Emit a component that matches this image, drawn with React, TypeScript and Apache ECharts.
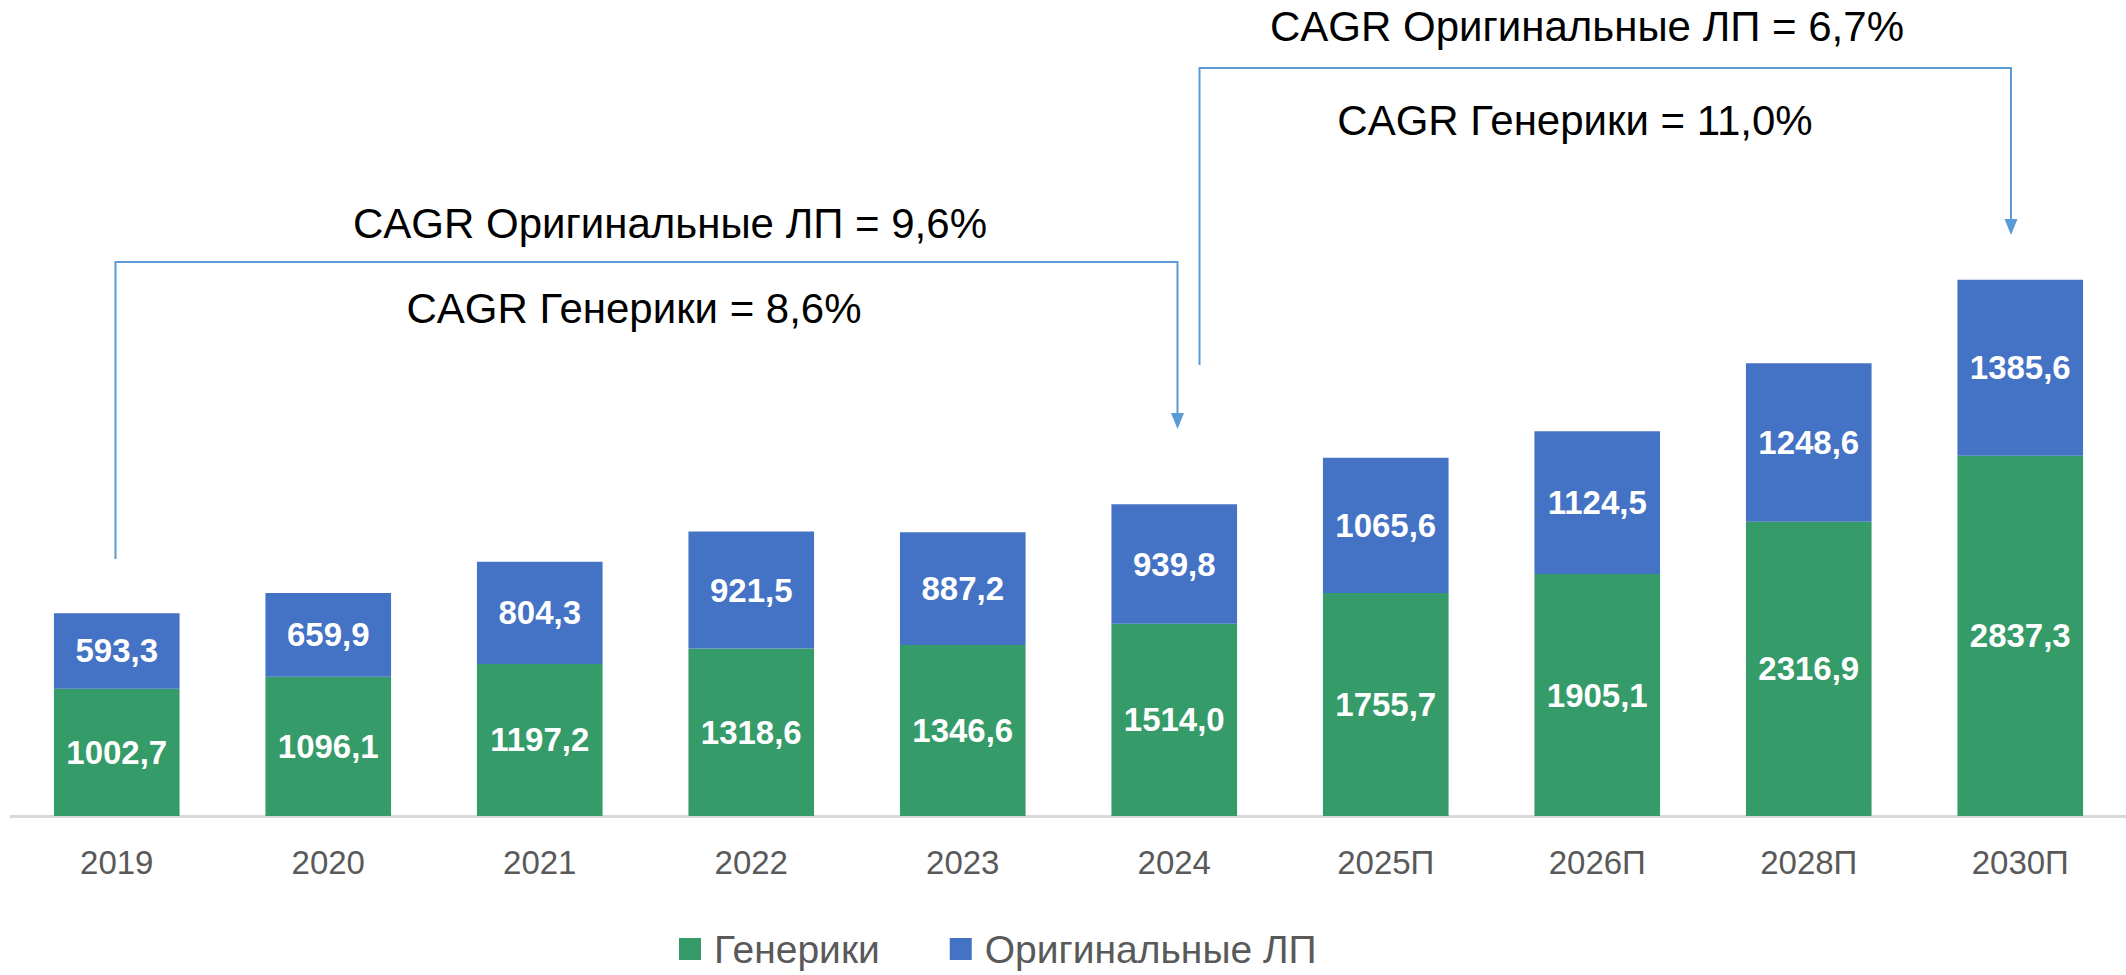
import React, { useEffect, useRef } from "react";
import * as echarts from "echarts";

const categories = ["2019", "2020", "2021", "2022", "2023", "2024", "2025П", "2026П", "2028П", "2030П"];
const generics = [1002.7, 1096.1, 1197.2, 1318.6, 1346.6, 1514.0, 1755.7, 1905.1, 2316.9, 2837.3];
const originals = [593.3, 659.9, 804.3, 921.5, 887.2, 939.8, 1065.6, 1124.5, 1248.6, 1385.6];
const seriesNames = ["Генерики", "Оригинальные ЛП"];
const cagrTexts = [
  "CAGR Оригинальные ЛП = 9,6%",
  "CAGR Генерики = 8,6%",
  "CAGR Оригинальные ЛП = 6,7%",
  "CAGR Генерики = 11,0%",
];

const FONT = "'Liberation Sans', Arial, sans-serif";
const GREEN = "#359B68";
const BLUE = "#4472C4";
const LINE = "#5B9BD5";

const fmt = (v: number) => v.toFixed(1).replace(".", ",");

export default function App() {
  const ref = useRef<HTMLDivElement>(null);
  useEffect(() => {
    if (!ref.current) return;
    const chart = echarts.init(ref.current, null, { renderer: "svg" });
    const labelStyle = {
      show: true,
      position: "inside" as const,
      color: "#ffffff",
      fontFamily: FONT,
      fontWeight: "bold" as const,
      fontSize: 33,
      formatter: (p: any) => fmt(p.value),
    };
    const textEl = (t: string, x: number, y: number) => ({
      type: "text",
      x,
      y,
      style: {
        text: t,
        fill: "#000000",
        font: `42px ${FONT}`,
        textAlign: "center",
        textVerticalAlign: "middle",
      },
    });
    chart.setOption({
      animation: false,
      backgroundColor: "#ffffff",
      grid: { left: 11, right: -7, top: 181, bottom: 159, containLabel: false },
      xAxis: {
        type: "category",
        data: categories,
        axisLine: { show: true, lineStyle: { color: "#d9d9d9", width: 3 } },
        axisTick: { show: false },
        axisLabel: { color: "#595959", fontFamily: FONT, fontSize: 33, margin: 30 },
      },
      yAxis: { type: "value", min: 0, max: 5000, show: false, splitLine: { show: false } },
      legend: {
        data: seriesNames,
        left: 674,
        top: 924,
        icon: "rect",
        itemWidth: 22,
        itemHeight: 22,
        itemGap: 70,
        textStyle: { color: "#595959", fontFamily: FONT, fontSize: 39, lineHeight: 40, padding: [0, 0, 0, 8] },
      },
      series: [
        {
          name: seriesNames[0],
          type: "bar",
          stack: "total",
          data: generics,
          barCategoryGap: "40.6%",
          itemStyle: { color: GREEN },
          label: labelStyle,
        },
        {
          name: seriesNames[1],
          type: "bar",
          stack: "total",
          data: originals,
          barCategoryGap: "40.6%",
          itemStyle: { color: BLUE },
          label: labelStyle,
        },
      ],
      graphic: [
        {
          type: "polyline",
          shape: { points: [[115.5, 559], [115.5, 262], [1177.5, 262], [1177.5, 416]] },
          style: { stroke: LINE, lineWidth: 2, fill: null },
        },
        {
          type: "polygon",
          shape: { points: [[1171, 413], [1184, 413], [1177.5, 429]] },
          style: { fill: LINE },
        },
        {
          type: "polyline",
          shape: { points: [[1199.5, 365], [1199.5, 68], [2011, 68], [2011, 222]] },
          style: { stroke: LINE, lineWidth: 2, fill: null },
        },
        {
          type: "polygon",
          shape: { points: [[2004.5, 219], [2017.5, 219], [2011, 235]] },
          style: { fill: LINE },
        },
        textEl(cagrTexts[0], 670, 223),
        textEl(cagrTexts[1], 634, 308),
        textEl(cagrTexts[2], 1587, 26),
        textEl(cagrTexts[3], 1575, 120),
      ],
    });
    return () => chart.dispose();
  }, []);
  return (
    <div
      ref={ref}
      style={{ position: "fixed", left: 0, top: 0, width: 2126, height: 975, background: "#fff" }}
    />
  );
}
